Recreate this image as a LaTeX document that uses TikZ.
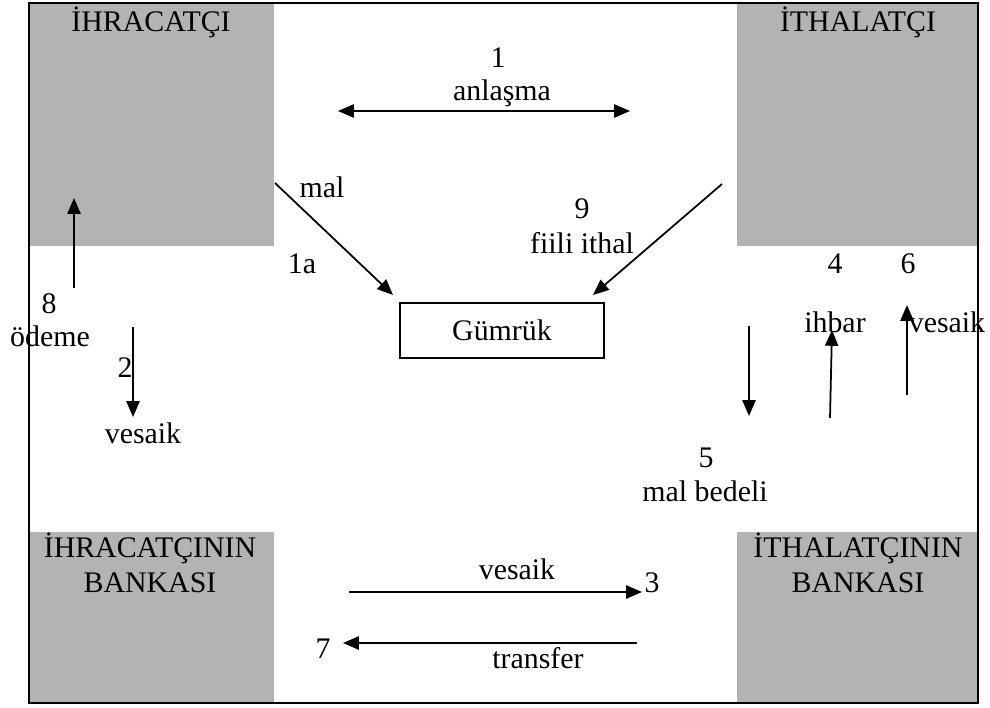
\documentclass[tikz,border=0pt]{standalone}
\usepackage{fontspec}
\setmainfont{Liberation Serif}
\usetikzlibrary{arrows.meta}
\definecolor{boxgray}{HTML}{B3B3B3}

\begin{document}
\begin{tikzpicture}[x=0.02cm,y=-0.02cm,>={Triangle[length=9pt,width=7.5pt]},line width=1pt,
                    party node/.style={rectangle,fill=boxgray,anchor=north west,inner sep=0pt},
                    lbl/.style={anchor=base,inner sep=0pt,font=\fontsize{17}{20}\selectfont}]
  \useasboundingbox (0,0) rectangle (990,707);

  % taraflar
  \node[party node, minimum width=4.88cm, minimum height=4.84cm] (ihr) at (29,3) {};
  \node[party node, minimum width=4.84cm, minimum height=4.84cm] (ith) at (736,3) {};
  \node[party node, minimum width=4.88cm, minimum height=3.44cm] (ihrb) at (29,531) {};
  \node[party node, minimum width=4.84cm, minimum height=3.44cm] (ithb) at (736,531) {};
  \draw (29,3) rectangle (978,703);

  \node[lbl] (t1) at (151,31) {İHRACATÇI};
  \node[lbl] (t2) at (858,31) {İTHALATÇI};
  \node[lbl] (t3) at (150,557) {İHRACATÇININ};
  \node[lbl] (t4) at (150,592) {BANKASI};
  \node[lbl] (t5) at (858,557) {İTHALATÇININ};
  \node[lbl] (t6) at (858,592) {BANKASI};

  \node[draw, minimum width=4.08cm, minimum height=1.1cm, font=\fontsize{17}{20}\selectfont] (gumruk) at (502,330.5) {Gümrük};

  % etiketler
  \node[lbl] (n1) at (498,67) {1};
  \node[lbl] (anl) at (502,100) {anlaşma};
  \node[lbl] (mal) at (322,197) {mal};
  \node[lbl] (n1a) at (302,273) {1a};
  \node[lbl] (n9) at (582,218) {9};
  \node[lbl] (fiili) at (582,253) {fiili ithal};
  \node[lbl] (n8) at (49,313) {8};
  \node[lbl] (odeme) at (50,346) {ödeme};
  \node[lbl] (n2) at (125,377) {2};
  \node[lbl] (ves1) at (143,443) {vesaik};
  \node[lbl] (n4) at (835,273) {4};
  \node[lbl] (n6) at (908,273) {6};
  \node[lbl] (ihbar) at (835,332) {ihbar};
  \node[lbl] (ves2) at (947,332) {vesaik};
  \node[lbl] (n5) at (706,467) {5};
  \node[lbl] (bedel) at (705,501) {mal bedeli};
  \node[lbl] (ves3) at (517,579) {vesaik};
  \node[lbl] (n3) at (652,592) {3};
  \node[lbl] (n7) at (323,658) {7};
  \node[lbl] (trans) at (538,668) {transfer};

  % ok uclari
  \coordinate (a0) at (338,111);  \coordinate (b0) at (630,111);
  \coordinate (a1) at (275,183);  \coordinate (b1) at (393,295);
  \coordinate (a9) at (722,184);  \coordinate (b9) at (593,295);
  \coordinate (a8) at (74,288);   \coordinate (b8) at (74,198);
  \coordinate (a2) at (133,327);  \coordinate (b2) at (133,417);
  \coordinate (a5) at (749,326);  \coordinate (b5) at (749,416);
  \coordinate (a4) at (830,418);  \coordinate (b4) at (832,330);
  \coordinate (a6) at (907,395);  \coordinate (b6) at (907,305);
  \coordinate (a3) at (349,592);  \coordinate (b3) at (642,592);
  \coordinate (a7) at (637,643);  \coordinate (b7) at (343,643);

  \path[->]
    (a0) edge [<->] (b0)
    (a1) edge (b1)
    (a9) edge (b9)
    (a8) edge (b8)
    (a2) edge (b2)
    (a5) edge (b5)
    (a4) edge (b4)
    (a6) edge (b6)
    (a3) edge (b3)
    (a7) edge (b7);
\end{tikzpicture}
\end{document}
